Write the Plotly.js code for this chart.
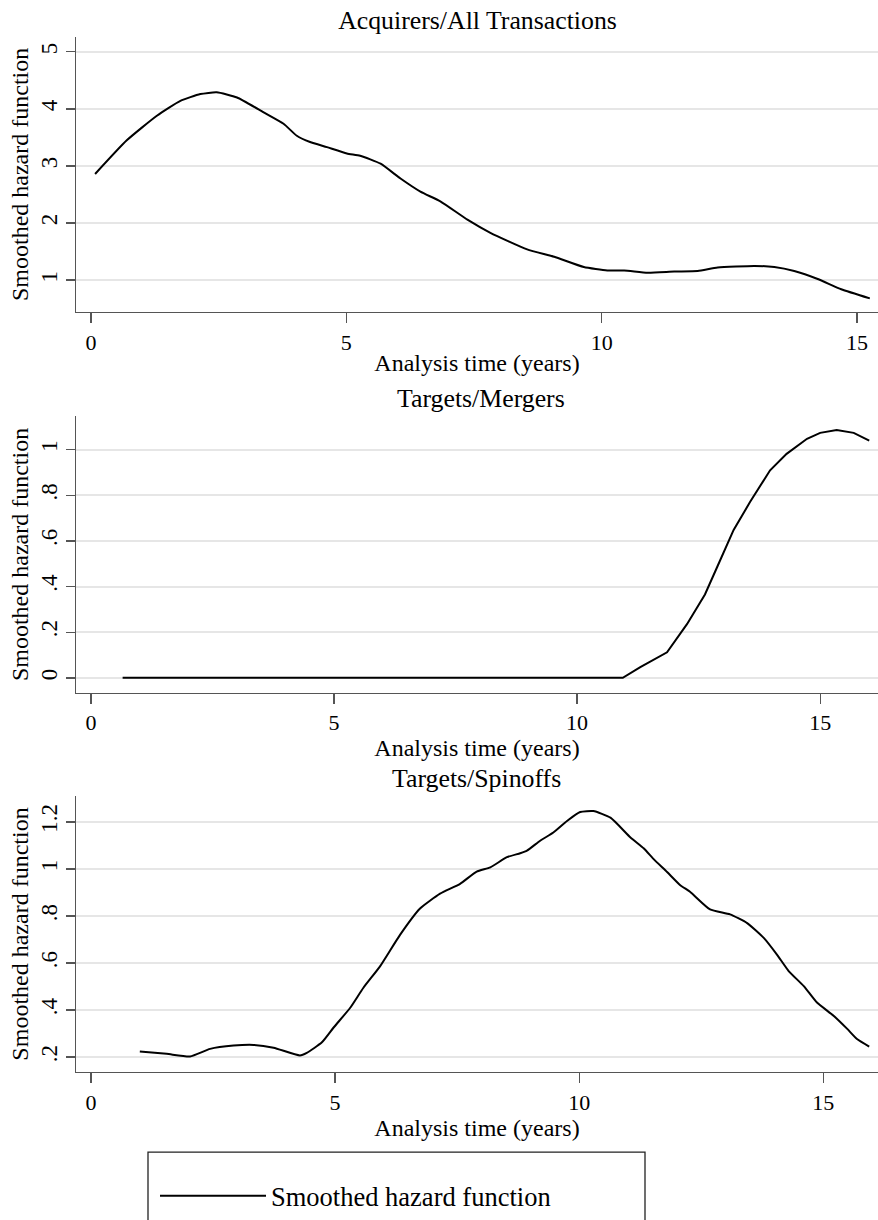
<!DOCTYPE html>
<html>
<head>
<meta charset="utf-8">
<script src="https://cdn.plot.ly/plotly-3.0.1.min.js"></script>
<style>html,body{margin:0;padding:0;background:#fff;}#chart{width:878px;height:1220px;}</style>
</head>
<body>
<div id="chart"></div>
<script>
// ---------- data ----------
const panelTitles = ["Acquirers/All Transactions", "Targets/Mergers", "Targets/Spinoffs"];
const xAxisTitle = "Analysis time (years)";
const yAxisTitle = "Smoothed hazard function";
const seriesName = "Smoothed hazard function";

const xTickVals = [0, 5, 10, 15];
const xTickText = ["0", "5", "10", "15"];

const yTickVals1 = [1, 2, 3, 4, 5];
const yTickText1 = ["1", "2", "3", "4", "5"];
const yTickVals2 = [0, 0.2, 0.4, 0.6, 0.8, 1];
const yTickText2 = ["0", ".2", ".4", ".6", ".8", "1"];
const yTickVals3 = [0.2, 0.4, 0.6, 0.8, 1, 1.2];
const yTickText3 = [".2", ".4", ".6", ".8", "1", "1.2"];

// Acquirers / All transactions
const xAcq = [0.08, 0.7, 1.29, 1.75, 2.14, 2.46, 2.86, 3.38, 3.77, 4.03, 4.29, 4.62, 5.01, 5.27, 5.67, 6.06, 6.45, 6.84, 7.37, 7.82, 8.54, 9.07, 9.65, 10.11, 10.44, 10.9, 11.42, 11.88, 12.27, 12.99, 13.38, 13.77, 14.23, 14.69, 15.25];
const yAcq = [2.86, 3.45, 3.88, 4.14, 4.26, 4.29, 4.2, 3.94, 3.74, 3.53, 3.42, 3.33, 3.22, 3.18, 3.04, 2.78, 2.55, 2.38, 2.06, 1.83, 1.54, 1.41, 1.23, 1.17, 1.17, 1.13, 1.15, 1.16, 1.22, 1.25, 1.23, 1.16, 1.02, 0.84, 0.68];

// Targets / Mergers
const xMer = [0.65, 10.94, 11.3, 11.85, 12.26, 12.63, 12.87, 13.22, 13.56, 13.97, 14.31, 14.73, 15.0, 15.34, 15.69, 16.01];
const yMer = [0, 0, 0.047, 0.112, 0.235, 0.365, 0.48, 0.648, 0.771, 0.909, 0.981, 1.047, 1.073, 1.086, 1.073, 1.039];

// Targets / Spinoffs
const xSpin = [1.0, 1.55, 2.03, 2.44, 2.92, 3.33, 3.74, 4.28, 4.42, 4.73, 4.97, 5.31, 5.58, 5.92, 6.33, 6.74, 7.15, 7.56, 7.9, 8.18, 8.52, 8.79, 8.93, 9.2, 9.47, 9.75, 10.02, 10.29, 10.64, 11.05, 11.32, 11.52, 11.8, 12.07, 12.27, 12.68, 13.09, 13.44, 13.78, 14.05, 14.29, 14.6, 14.87, 15.21, 15.49, 15.69, 15.94];
const ySpin = [0.224, 0.214, 0.203, 0.235, 0.249, 0.252, 0.24, 0.207, 0.218, 0.263, 0.326, 0.41, 0.495, 0.586, 0.72, 0.832, 0.895, 0.937, 0.989, 1.007, 1.05, 1.067, 1.078, 1.12, 1.155, 1.204, 1.242, 1.246, 1.218, 1.134, 1.088, 1.043, 0.987, 0.931, 0.903, 0.828, 0.807, 0.77, 0.707, 0.636, 0.566, 0.502, 0.432, 0.376, 0.32, 0.277, 0.245];

// ---------- layout helpers ----------
const W = 878, H = 1220;
const FONT = "Liberation Serif, Times New Roman, serif";
const px = v => v / W;
const py = v => 1 - v / H;

const lineStyle = {color: "#000", width: 2};

const traces = [
  {x: xAcq, y: yAcq, xaxis: "x", yaxis: "y", type: "scatter", mode: "lines",
   line: Object.assign({shape: "spline", smoothing: 0.5}, lineStyle), name: seriesName, showlegend: true},
  {x: xMer, y: yMer, xaxis: "x2", yaxis: "y2", type: "scatter", mode: "lines",
   line: Object.assign({shape: "linear"}, lineStyle), name: seriesName, showlegend: false},
  {x: xSpin, y: ySpin, xaxis: "x3", yaxis: "y3", type: "scatter", mode: "lines",
   line: Object.assign({shape: "spline", smoothing: 0.5}, lineStyle), name: seriesName, showlegend: false}
];

function xax(range, anchor) {
  return {
    domain: [px(76), 1], anchor: anchor, range: range, automargin: false,
    showline: true, linecolor: "#555", linewidth: 1.3, mirror: false,
    showgrid: false, zeroline: false,
    ticks: "outside", ticklen: 10, tickwidth: 1.3, tickcolor: "#555",
    tickmode: "array", tickvals: xTickVals, ticktext: xTickText,
    tickfont: {family: FONT, size: 22, color: "#000"},
    title: {text: xAxisTitle, font: {family: FONT, size: 24, color: "#000"}, standoff: 0}
  };
}
function yax(range, top, bottom, anchor, tv, tt) {
  return {
    domain: [py(bottom), py(top)], anchor: anchor, range: range, automargin: false,
    showline: true, linecolor: "#555", linewidth: 1.3, mirror: false,
    showgrid: true, gridcolor: "#e6e6e6", gridwidth: 2, zeroline: false,
    ticks: "outside", ticklen: 9, tickwidth: 1.3, tickcolor: "#555",
    tickmode: "array", tickvals: tv, ticktext: tt, tickangle: -90,
    tickfont: {family: FONT, size: 23, color: "#000"},
    title: {text: yAxisTitle, font: {family: FONT, size: 24, color: "#000"}, standoff: 1}
  };
}

const P1 = {top: 37, bottom: 315}, P2 = {top: 420, bottom: 699}, P3 = {top: 803.3, bottom: 1081.7};

const layout = {
  width: W, height: H,
  margin: {l: 0, r: 0, t: 0, b: 0, pad: 0},
  paper_bgcolor: "#fff", plot_bgcolor: "#fff",
  font: {family: FONT, color: "#000"},
  title: {text: panelTitles[0], font: {family: FONT, size: 25.8, color: "#000"},
          xref: "paper", x: 477.5 / W, xanchor: "center",
          yref: "container", y: py(20), yanchor: "middle"},
  xaxis: xax([-0.294, 15.41], "y"),
  yaxis: yax([0.439, 5.266], P1.top, P1.bottom, "x", yTickVals1, yTickText1),
  xaxis2: xax([-0.309, 16.19], "y2"),
  yaxis2: yax([-0.065, 1.146], P2.top, P2.bottom, "x2", yTickVals2, yTickText2),
  xaxis3: xax([-0.307, 16.12], "y3"),
  yaxis3: yax([0.137, 1.31], P3.top, P3.bottom, "x3", yTickVals3, yTickText3),
  annotations: [
    {text: panelTitles[1], xref: "paper", yref: "paper", x: 481 / W, y: py(402),
     xanchor: "center", yanchor: "middle", showarrow: false,
     font: {family: FONT, size: 25.8, color: "#000"}},
    {text: panelTitles[2], xref: "paper", yref: "paper", x: 477 / W, y: py(786),
     xanchor: "center", yanchor: "middle", showarrow: false,
     font: {family: FONT, size: 25.8, color: "#000"}}
  ],
  shapes: [
    {type: "rect", xref: "paper", yref: "paper", x0: px(148), x1: px(645), y0: py(1162.7), y1: py(1240),
     line: {color: "#222", width: 1.3}, fillcolor: "rgba(0,0,0,0)"}
  ],
  showlegend: true,
  legend: {x: px(155), y: py(1183), xanchor: "left", yanchor: "top",
           bgcolor: "rgba(0,0,0,0)", borderwidth: 0, itemwidth: 106,
           font: {family: FONT, size: 26.5, color: "#000"}}
};

Plotly.newPlot("chart", traces, layout, {displayModeBar: false, staticPlot: true});
</script>
</body>
</html>
